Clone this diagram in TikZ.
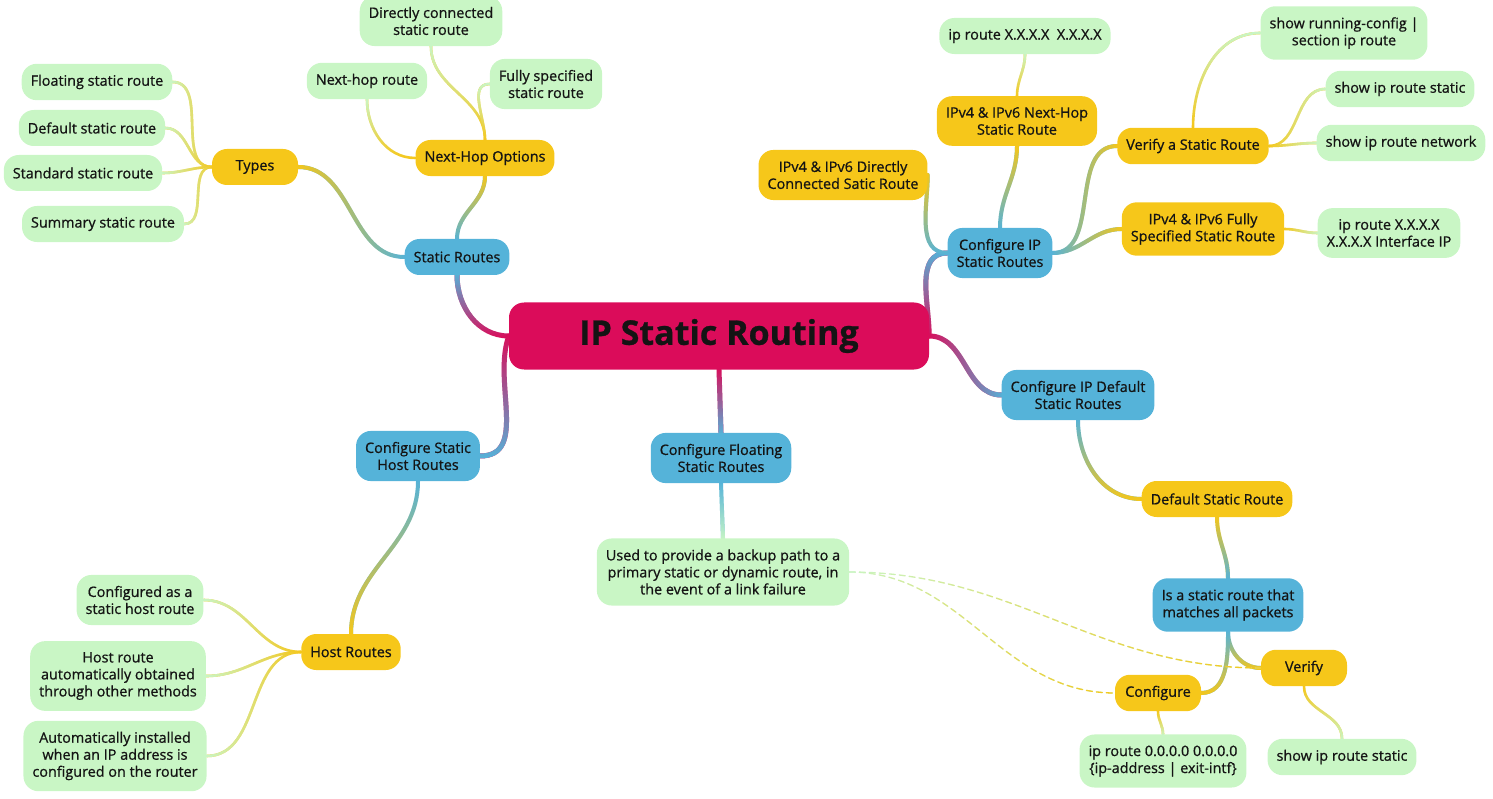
\documentclass[tikz,border=0pt]{standalone}
\usepackage{fontspec}
\setmainfont{Open Sans}[FakeBold=0.8]
\usetikzlibrary{backgrounds,fadings}
\definecolor{crim}{HTML}{DB0C5A}
\definecolor{blu}{HTML}{55B3D9}
\definecolor{yel}{HTML}{F6C71A}
\definecolor{grn}{HTML}{C9F6C5}
\definecolor{ink}{HTML}{141414}

\begin{document}
\begin{tikzpicture}[x=1pt, y=1pt,
  box/.style={rounded corners=15pt, align=center, text=ink, inner xsep=9pt, inner ysep=11pt, minimum height=36pt, font=\fontsize{14.4}{17}\selectfont},
  main/.style={box, fill=blu},
  sub/.style={box, fill=yel},
  leaf/.style={box, fill=grn},
  arr/.style n args={3}{line width=4pt, line cap=round, draw=#1, postaction={draw=#2, path fading=#3}},
  twig/.style={line width=2.6pt}
]
\useasboundingbox (0,0) rectangle (1493,-799);

% centre
\node[box, fill=crim, minimum width=420pt, minimum height=67pt, font=\fontsize{34}{40}\selectfont\bfseries] (root) at (719,-336) {IP Static Routing};

% first level
\node[main] (sr) at (457,-257) {Static Routes};
\node[main] (cisr) at (1000,-253) {Configure IP\\Static Routes};
\node[main] (cidsr) at (1078,-395) {Configure IP Default\\Static Routes};
\node[main] (cfsr) at (721,-458) {Configure Floating\\Static Routes};
\node[main] (cshr) at (418,-456) {Configure Static\\Host Routes};

% second level
\node[sub, minimum width=86pt] (types) at (255,-167) {Types};
\node[sub] (nho) at (485,-158) {Next-Hop Options};
\node[sub] (nhsr) at (1017,-121) {IPv4 \& IPv6 Next-Hop\\Static Route};
\node[sub] (dcsr) at (843,-175) {IPv4 \& IPv6 Directly\\Connected Satic Route};
\node[sub] (vsr) at (1193,-146) {Verify a Static Route};
\node[sub] (fssr) at (1203,-229) {IPv4 \& IPv6 Fully\\Specified Static Route};
\node[sub] (dsr) at (1217,-499) {Default Static Route};
\node[main] (isr) at (1228,-605) {Is a static route that\\matches all packets};
\node[sub, minimum width=86pt] (verify) at (1304,-668) {Verify};
\node[sub, minimum width=86pt] (config) at (1158,-693) {Configure};
\node[sub] (hr) at (351,-652) {Host Routes};

% leaves
\node[leaf] (dc) at (431,-21) {Directly connected\\static route};
\node[leaf] (nhr) at (367,-81) {Next-hop route};
\node[leaf] (fs) at (546,-84) {Fully specified\\static route};
\node[leaf] (floating) at (97,-82) {Floating static route};
\node[leaf] (default) at (92,-128) {Default static route};
\node[leaf] (standard) at (83,-173) {Standard static route};
\node[leaf] (summary) at (103,-224) {Summary static route};
\node[leaf] (iprnh) at (1025,-36) {ip route X.X.X.X\ \ X.X.X.X};
\node[leaf] (showrun) at (1344,-33) {show running-config |\\section ip route};
\node[leaf] (showstat) at (1400,-89) {show ip route static};
\node[leaf] (shownet) at (1401,-143) {show ip route network};
\node[leaf] (iprfs) at (1389,-233) {ip route X.X.X.X\\X.X.X.X Interface IP};
\node[leaf] (used) at (723,-572) {Used to provide a backup path to a\\primary static or dynamic route, in\\the event of a link failure};
\node[leaf] (iprdef) at (1163,-761) {ip route 0.0.0.0 0.0.0.0\\\{ip-address | exit-intf\}};
\node[leaf] (showstat2) at (1342,-757) {show ip route static};
\node[leaf] (cfgd) at (140,-600) {Configured as a\\static host route};
\node[leaf] (auto) at (118,-676) {Host route\\automatically obtained\\through other methods};
\node[leaf] (inst) at (115,-756) {Automatically installed\\when an IP address is\\configured on the router};

\begin{scope}[on background layer]
% from the centre
\draw[arr={crim}{blu}{south}, line width=5pt] (root.west) to[out=180,in=-90] (sr.south);
\draw[arr={crim}{blu}{north}, line width=5pt] (root.west) to[out=-110,in=0] (cshr.east);
\draw[arr={crim}{blu}{north}, line width=5pt] (root.south) -- (cfsr.north);
\draw[arr={crim}{blu}{south}, line width=5pt] (root.east) to[out=90,in=180] (cisr.west);
\draw[arr={crim}{blu}{west}, line width=5pt] (root.east) to[out=0,in=180] (cidsr.west);
% static routes
\draw[arr={blu}{yel}{east}] (sr.west) to[out=180,in=0] (types.east);
\draw[arr={blu}{yel}{south}] (sr.north) to[out=90,in=-90] (nho.south);
\draw[arr={yel}{grn}{south}, twig] (nho.west) to[out=180,in=-90] (nhr.south);
\draw[arr={yel}{grn}{south}, twig] (nho.north) to[out=90,in=-90] (dc.south);
\draw[arr={yel}{grn}{south}, twig] (nho.north) to[out=90,in=180] (fs.west);
\foreach \t in {floating,default,standard,summary}
  \draw[arr={yel}{grn}{east}, twig] (types.west) to[out=180,in=0] (\t.east);
% configure ip static routes
\draw[arr={blu}{yel}{south}] (cisr.west) to[out=180,in=-90] (dcsr.east);
\draw[arr={blu}{yel}{south}] (cisr.north) to[out=90,in=-90] (nhsr.south);
\draw[arr={yel}{grn}{south}, twig] (nhsr.north) to[out=90,in=-90] (iprnh.south);
\draw[arr={blu}{yel}{west}] (cisr.east) to[out=0,in=180] (vsr.west);
\draw[arr={blu}{yel}{west}] (cisr.east) to[out=0,in=180] (fssr.west);
\draw[arr={yel}{grn}{west}, twig] (fssr.east) to[out=0,in=180] (iprfs.west);
\draw[arr={yel}{grn}{south}, twig] (vsr.north) to[out=90,in=180] (showrun.west);
\draw[arr={yel}{grn}{west}, twig] (vsr.east) to[out=0,in=180] (showstat.west);
\draw[arr={yel}{grn}{west}, twig] (vsr.east) to[out=0,in=180] (shownet.west);
% default routes
\draw[arr={blu}{yel}{north}] (cidsr.south) to[out=-90,in=180] (dsr.west);
\draw[arr={yel}{blu}{north}] (dsr.south) to[out=-90,in=90] (isr.north);
\draw[arr={blu}{yel}{north}] (isr.south) to[out=-90,in=180] (verify.west);
\draw[arr={blu}{yel}{north}] (isr.south) to[out=-90,in=0] (config.east);
\draw[arr={yel}{grn}{north}, twig] (config.south) to[out=-90,in=90] (iprdef.north);
\draw[arr={yel}{grn}{north}, twig] (verify.south) to[out=-90,in=90] (showstat2.north);
% floating and host routes
\draw[arr={blu}{grn}{north}] (cfsr.south) -- (used.north);
\draw[arr={grn}{yel}{west}, line width=1.3pt, dash pattern=on 6pt off 4pt] (used.east) to[out=0,in=180] (verify.west);
\draw[arr={grn}{yel}{west}, line width=1.3pt, dash pattern=on 6pt off 4pt] (used.east) to[out=0,in=180] (config.west);
\draw[arr={blu}{yel}{north}] (cshr.south) to[out=-90,in=90] (hr.north);
\foreach \t in {cfgd,auto,inst}
  \draw[arr={yel}{grn}{east}, twig] (hr.west) to[out=180,in=0] (\t.east);
\end{scope}
\end{tikzpicture}
\end{document}
